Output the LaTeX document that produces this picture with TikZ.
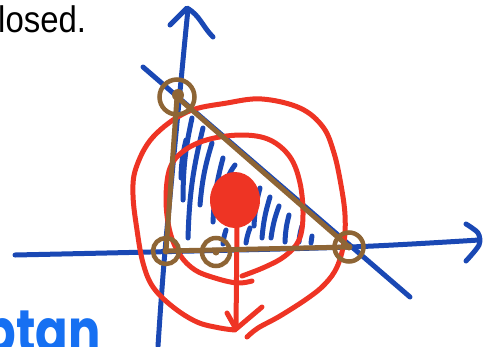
\documentclass[tikz,border=0pt]{standalone}
\usepackage{fontspec}
\setmainfont{Liberation Sans}
\newfontfamily\handfont{Poppins}
\usepackage{tikz}
\usetikzlibrary{calc}
\definecolor{inkblue}{HTML}{1A48B4}
\definecolor{inkred}{HTML}{EE3424}
\definecolor{inkbrown}{HTML}{8E6535}
\definecolor{noteblue}{HTML}{1670F2}
\tikzset{
  axisline/.style={
    draw=inkblue, line width=5pt, line cap=round, line join=round
  },
  hatchline/.style={
    draw=inkblue, line width=5pt, line cap=round
  },
  redline/.style={
    draw=inkred, line width=5pt, line cap=round, line join=round
  },
  brownline/.style={
    draw=inkbrown, line width=5pt, line cap=round, line join=round
  },
  vertexring/.style={
    circle, draw=inkbrown, line width=4.5pt,
    minimum size=#1, inner sep=0pt
  },
  vertexring/.default=26pt,
  vertexdot/.style={
    circle, fill=inkbrown, minimum size=#1, inner sep=0pt
  },
  vertexdot/.default=7pt,
}

\begin{document}
\begin{tikzpicture}[x=1pt,y=-1pt]
  \useasboundingbox (0,0) rectangle (495,346);
  \clip (0,0) rectangle (495,346);

  % ── Text ────────────────
  \node[anchor=base west, inner sep=0pt] (caption) at (-2,32)
    {\scalebox{0.89}[1]{\fontsize{37}{40}\selectfont losed.}};
  \node[anchor=base east, inner sep=0pt, text=noteblue] (note) at (101,352)
    {\scalebox{0.8}[1]{\handfont\bfseries\fontsize{60}{64}\selectfont ptan}};

  % ── Points ──────────────
  \coordinate (A) at (177,97);
  \coordinate (B) at (166,251);
  \coordinate (C) at (349,247);
  \coordinate (D) at (216,252);

  % ── Axes ────────────────
  \draw[axisline] plot[smooth] coordinates {(15,255) (150,252) (350,247) (479,240)};
  \draw[axisline] plot[smooth] coordinates {(466,224) (478,233) (479,245) (466,261)};
  \draw[axisline] plot[smooth] coordinates {(158,346) (165,251) (183,60) (188,9)};
  \draw[axisline] (170,25) -- (187,8) to[out=-30,in=135] (213,37);
  \draw[axisline] (143,67) -- (410,297);

  % ── Hatching ────────────
  \foreach \xa/\ya/\xb/\yb in {192/118/183/200, 203/128/188/238,
      212/143/200/205, 223/158/213/222, 235/165/228/177,
      186/140/181/178, 260/188/254/226, 270/197/262/238,
      279/206/271/238, 289/215/285/242, 302/226/299/242,
      312/236/311/243, 250/228/246/243, 226/230/223/244}
    \draw[hatchline] (\xa,\ya) to[bend right=6] (\xb,\yb);

  % ── Level curves ────────
  \draw[redline] plot[smooth, tension=0.6] coordinates {
    (235,330) (220,328) (197,322) (173,307) (153,287) (143,263)
    (137,230) (133,195) (136,168) (153,137) (187,112) (227,103)
    (262,99) (300,108) (323,127) (334,153) (341,185) (345,215)
    (344,242) (337,267) (325,284) (308,298) (280,316) (258,328)
    (247,337)};
  \draw[redline] plot[smooth, tension=0.6] coordinates {
    (252,281) (237,283) (215,278) (195,270) (180,255) (170,232)
    (166,200) (170,168) (185,150) (210,139) (243,135) (270,140)
    (290,157) (300,183) (303,215) (299,240) (285,256) (265,267)
    (242,276)};
  \fill[inkred] (235,200) ellipse [x radius=25, y radius=28];
  \draw[redline] (237,226) -- (236,328);
  \draw[redline] (227,313) -- (236,329) -- (262,307);

  % ── Triangle ────────────
  \draw[brownline] (A) -- (B) -- (C) -- cycle;
  \node[vertexring=35pt] (ringA) at (A) {};
  \node[vertexring=26pt] (ringB) at (B) {};
  \node[vertexring=28pt] (ringD) at (D) {};
  \node[vertexring=29pt] (ringC) at (C) {};
  \node[vertexdot=12pt] (dotA) at ($(A)+(1,-2)$) {};
  \node[vertexdot] (dotB) at (B) {};
  \node[vertexdot] (dotD) at (D) {};
  \node[vertexdot] (dotC) at (C) {};
\end{tikzpicture}
\end{document}
